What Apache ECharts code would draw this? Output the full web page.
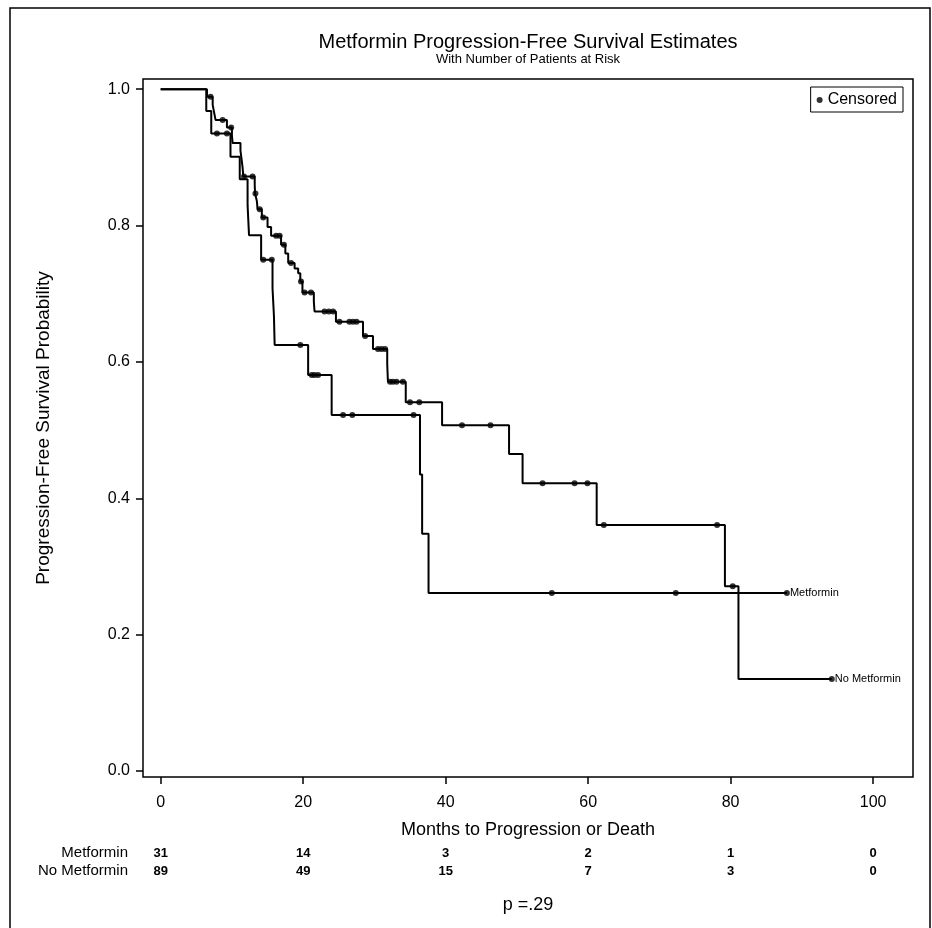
<!DOCTYPE html>
<html><head><meta charset="utf-8">
<script src="https://cdn.jsdelivr.net/npm/echarts@6/dist/echarts.min.js"></script>
<style>html,body{margin:0;padding:0;background:#fff}#c{width:932px;height:928px}</style>
</head><body><div id="c"></div>
<script>
// ---- data ----
const xTicks = [0, 20, 40, 60, 80, 100];
const yTicks = [0, 0.2, 0.4, 0.6, 0.8, 1.0];

const metTimes = [0, 6.4, 7.1, 9.8, 11.1, 12.2, 12.4, 14.1, 15.7, 15.9, 16.0, 20.7, 24.0, 36.4, 36.7, 37.6, 87.9];
const metSurv  = [1, 0.968, 0.935, 0.901, 0.868, 0.83, 0.786, 0.750, 0.708, 0.667, 0.625, 0.581, 0.522, 0.435, 0.348, 0.261, 0.261];
const metCensored = [7.9, 9.3, 14.4, 15.6, 19.6, 21.2, 21.6, 22.1, 25.6, 26.9, 35.5, 54.9, 72.3, 87.9];

const noTimes = [0, 6.5, 7.3, 7.5, 7.7, 9.3, 10.0, 10.1, 11.2, 11.35, 11.5, 11.6, 13.2, 13.25, 13.5, 13.6, 14.2, 15.0, 15.5, 16.9, 17.5, 17.9, 18.8, 19.3, 19.6, 19.9, 21.5, 21.6, 24.6, 28.4, 29.8, 31.8, 31.9, 34.4, 39.5, 48.9, 50.8, 61.2, 79.2, 81.1, 94.2];
const noSurv  = [1, 0.989, 0.977, 0.966, 0.955, 0.944, 0.932, 0.921, 0.910, 0.898, 0.885, 0.872, 0.860, 0.847, 0.836, 0.824, 0.812, 0.798, 0.785, 0.772, 0.759, 0.745, 0.737, 0.730, 0.718, 0.702, 0.688, 0.674, 0.659, 0.638, 0.619, 0.597, 0.571, 0.541, 0.507, 0.465, 0.422, 0.361, 0.271, 0.135, 0.135];
const noCensored = [7.0, 8.7, 9.9, 11.7, 12.9, 13.3, 13.9, 14.4, 16.2, 16.7, 17.3, 18.3, 19.7, 20.2, 21.1, 23.0, 23.6, 24.2, 25.1, 26.5, 27.0, 27.5, 28.7, 30.5, 31.0, 31.5, 32.2, 32.6, 33.1, 34.0, 35.0, 36.3, 42.3, 46.3, 53.6, 58.1, 59.9, 62.2, 78.1, 80.3, 94.2];

const groupNames = ['Metformin', 'No Metformin'];
const riskMetformin = [31, 14, 3, 2, 1, 0];
const riskNoMetformin = [89, 49, 15, 7, 3, 0];
const pValueText = 'p =.29';

// ---- helpers ----
function stepValue(times, surv, t) {
  let v = surv[0];
  for (let i = 0; i < times.length; i++) { if (times[i] <= t) v = surv[i]; }
  return v;
}
const pairs = (ts, ss) => ts.map((t, i) => [t, ss[i]]);
const censorPts = metCensored.map(t => [t, stepValue(metTimes, metSurv, t)])
  .concat(noCensored.map(t => [t, stepValue(noTimes, noSurv, t)]));

const FONT = "'Liberation Sans', Arial, sans-serif";
const chart = echarts.init(document.getElementById('c'), null, {renderer: 'canvas'});

const option = {
  animation: false,
  backgroundColor: '#fff',
  grid: {left: 143, top: 79, right: 19, bottom: 151, show: true, borderColor: '#000', borderWidth: 1.5, backgroundColor: 'transparent'},
  legend: {
    data: ['Censored'], right: 29, top: 87, orient: 'horizontal',
    borderColor: '#000', borderWidth: 1, padding: [5, 6, 4, 6],
    icon: 'circle', itemWidth: 6, itemHeight: 6, itemGap: 5,
    textStyle: {fontFamily: FONT, fontSize: 16, color: '#000'}
  },
  xAxis: {
    type: 'value', min: -2.48, max: 105.6,
    splitLine: {show: false}, axisLine: {show: false, onZero: false},
    axisTick: {show: true, customValues: xTicks, length: 7, lineStyle: {color: '#000', width: 1.5}},
    axisLabel: {customValues: xTicks, color: '#000', fontFamily: FONT, fontSize: 16, margin: 18},
    name: 'Months to Progression or Death', nameLocation: 'middle', nameGap: 44,
    nameTextStyle: {fontFamily: FONT, fontSize: 18, color: '#000'}
  },
  yAxis: {
    type: 'value', min: -0.0088, max: 1.015,
    splitLine: {show: false}, axisLine: {show: false, onZero: false},
    axisTick: {show: true, customValues: yTicks, length: 7, lineStyle: {color: '#000', width: 1.5}},
    axisLabel: {customValues: yTicks, color: '#000', fontFamily: FONT, fontSize: 16, margin: 13, formatter: v => v.toFixed(1)},
    name: 'Progression-Free Survival Probability', nameLocation: 'middle', nameGap: 90,
    nameTextStyle: {fontFamily: FONT, fontSize: 19, color: '#000'}
  },
  series: [
    {name: groupNames[0], type: 'line', step: 'end', data: pairs(metTimes, metSurv), showSymbol: false, symbol: 'none',
     lineStyle: {color: '#000', width: 2}, z: 3,
     endLabel: {show: true, formatter: '{a}', fontFamily: FONT, fontSize: 11, color: '#000', distance: 3}},
    {name: groupNames[1], type: 'line', step: 'end', data: pairs(noTimes, noSurv), showSymbol: false, symbol: 'none',
     lineStyle: {color: '#000', width: 2}, z: 3,
     endLabel: {show: true, formatter: '{a}', fontFamily: FONT, fontSize: 11, color: '#000', distance: 3}},
    {name: 'Censored', type: 'scatter', data: censorPts, symbol: 'circle', symbolSize: 6,
     itemStyle: {color: '#000'}, z: 4}
  ]
};
chart.setOption(option);

// ---- text graphics: titles, risk table, p-value, outer frame ----
const graphics = [
  {type: 'rect', shape: {x: 10, y: 8, width: 920, height: 940}, style: {fill: 'none', stroke: '#000', lineWidth: 1.5}, z: 0, silent: true},
  {type: 'text', x: 528, y: 42, style: {text: 'Metformin Progression-Free Survival Estimates', font: `20px ${FONT}`, fill: '#000', align: 'center', verticalAlign: 'middle'}},
  {type: 'text', x: 528, y: 59, style: {text: 'With Number of Patients at Risk', font: `13px ${FONT}`, fill: '#000', align: 'center', verticalAlign: 'middle'}},
  {type: 'text', x: 128, y: 853, style: {text: groupNames[0], font: `15px ${FONT}`, fill: '#000', align: 'right', verticalAlign: 'middle'}},
  {type: 'text', x: 128, y: 871, style: {text: groupNames[1], font: `15px ${FONT}`, fill: '#000', align: 'right', verticalAlign: 'middle'}},
  {type: 'text', x: 528, y: 905, style: {text: pValueText, font: `18px ${FONT}`, fill: '#000', align: 'center', verticalAlign: 'middle'}}
];
xTicks.forEach((t, i) => {
  const px = chart.convertToPixel({xAxisIndex: 0}, t);
  graphics.push({type: 'text', x: px, y: 853, style: {text: String(riskMetformin[i]), font: `bold 13px ${FONT}`, fill: '#000', align: 'center', verticalAlign: 'middle'}});
  graphics.push({type: 'text', x: px, y: 871, style: {text: String(riskNoMetformin[i]), font: `bold 13px ${FONT}`, fill: '#000', align: 'center', verticalAlign: 'middle'}});
});
chart.setOption({graphic: graphics});
</script>
</body></html>
